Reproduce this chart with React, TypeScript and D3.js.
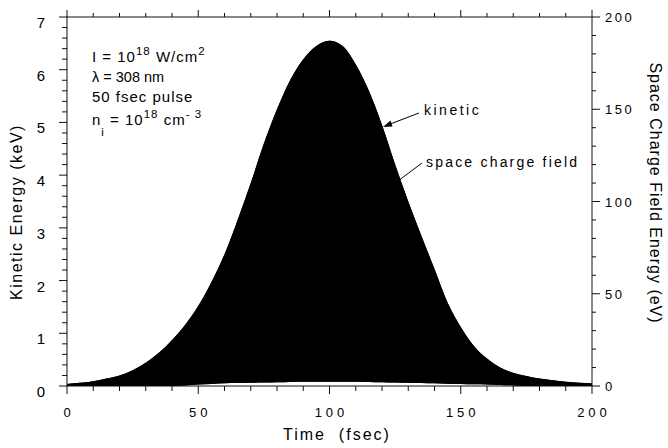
import React from 'react';
import * as d3 from 'd3';

// Time samples (fsec)
const times = [
  0, 5, 10, 15, 20, 25, 30, 35, 40, 45, 50, 55, 60, 65, 70, 75, 80, 85, 90, 95,
  100, 105, 110, 115, 120, 125, 130, 135, 140, 145, 150, 155, 160, 165, 170, 175,
  180, 185, 190, 195, 200,
];

// Upper envelope of the oscillating kinetic energy (keV)
const kineticUpper = [
  0.04, 0.06, 0.09, 0.14, 0.2, 0.3, 0.44, 0.63, 0.87, 1.16, 1.52, 1.97, 2.5, 3.15,
  3.85, 4.6, 5.25, 5.8, 6.2, 6.45, 6.55, 6.45, 6.1, 5.6, 4.95, 4.2, 3.5, 2.85,
  2.22, 1.58, 1.12, 0.76, 0.52, 0.35, 0.25, 0.19, 0.14, 0.11, 0.08, 0.06, 0.05,
];

// Lower envelope of the oscillation (keV)
const kineticLower = [
  0, 0, 0, 0, 0, 0, 0, 0, 0, 0.01, 0.03, 0.04, 0.05, 0.055, 0.06, 0.065, 0.07,
  0.075, 0.08, 0.08, 0.08, 0.08, 0.08, 0.075, 0.07, 0.065, 0.06, 0.055, 0.05,
  0.045, 0.04, 0.035, 0.03, 0.02, 0.01, 0, 0, 0, 0, 0, 0,
];

// Upper envelope of the space charge field energy (eV)
const spaceCharge = [
  1.1, 1.7, 2.6, 4.0, 5.7, 8.6, 12.6, 18, 24.9, 33.1, 43.4, 56.3, 71.4, 90,
  110, 131.4, 150, 165.7, 177.1, 184.3, 187.1, 184.3, 174.3, 160, 141.4, 120,
  100, 81.4, 63.4, 45.1, 32, 21.7, 14.9, 10, 7.1, 5.4, 4.0, 3.1, 2.3, 1.7, 1.4,
];

const timeTicks = [0, 50, 100, 150, 200];
const keVTicks = [0, 1, 2, 3, 4, 5, 6, 7];
const eVTicks = [0, 50, 100, 150, 200];

const FONT = '"Liberation Sans", Arial, Helvetica, sans-serif';

export default function App() {
  const W = 668;
  const H = 448;
  const x0 = 67, x1 = 592, yTop = 17, yBot = 386;

  const x = d3.scaleLinear().domain([0, 200]).range([x0, x1]);
  const yL = d3.scaleLinear().domain([0, 7]).range([yBot, yTop]);
  const yR = d3.scaleLinear().domain([0, 200]).range([yBot, yTop]);

  const rows = times.map((t, i) => ({
    t,
    hi: kineticUpper[i],
    lo: kineticLower[i],
    sc: spaceCharge[i],
  }));

  const kinArea = d3
    .area<any>()
    .x((d) => x(d.t))
    .y0((d) => yL(d.lo))
    .y1((d) => yL(d.hi))
    .curve(d3.curveMonotoneX);

  const scArea = d3
    .area<any>()
    .x((d) => x(d.t))
    .y0((d) => yL(d.lo))
    .y1((d) => yR(d.sc))
    .curve(d3.curveMonotoneX);

  const xMinor = x.ticks(20);
  const lMinor = yL.ticks(35);
  const rMinor = yR.ticks(20);

  const axisColor = '#111';
  const sup = 11.5;

  return (
    <svg
      width={W}
      height={H}
      style={{ position: 'absolute', left: 0, top: 0, background: '#fff' }}
      fontFamily={FONT}
    >
      <rect x={0} y={0} width={W} height={H} fill="#fff" />

      {/* oscillating energies, drawn as filled envelopes */}
      <path d={scArea(rows) || ''} fill="#000" />
      <path d={kinArea(rows) || ''} fill="#000" />

      {/* frame */}
      <rect x={x0} y={yTop} width={x1 - x0} height={yBot - yTop} fill="none" stroke={axisColor} strokeWidth={1} />

      {/* time ticks: bottom (down) and top (up) */}
      {xMinor.map((t) => {
        const major = timeTicks.includes(t);
        const len = major ? 8 : 5;
        return (
          <g key={'xt' + t} stroke={axisColor} strokeWidth={1}>
            <line x1={x(t)} x2={x(t)} y1={yBot} y2={yBot + len} />
            <line x1={x(t)} x2={x(t)} y1={yTop} y2={yTop - (major ? 7 : 4)} />
          </g>
        );
      })}
      {timeTicks.map((t) => (
        <text
          key={'xl' + t}
          x={x(t)}
          dx={2}
          y={417}
          fontSize={13}
          letterSpacing={4}
          textAnchor="middle"
        >
          {t}
        </text>
      ))}

      {/* left keV ticks */}
      {lMinor.map((v) => {
        const major = Math.abs(v - Math.round(v)) < 1e-6;
        return (
          <line
            key={'lt' + v}
            x1={x0}
            x2={x0 - (major ? 8 : 5)}
            y1={yL(v)}
            y2={yL(v)}
            stroke={axisColor}
            strokeWidth={1}
          />
        );
      })}
      {keVTicks.map((v) => (
        <text key={'ll' + v} x={45} y={yL(v) + 11} fontSize={15} textAnchor="end">
          {v}
        </text>
      ))}

      {/* right eV ticks */}
      {rMinor.map((v) => {
        const major = eVTicks.includes(v);
        return (
          <line
            key={'rt' + v}
            x1={x1}
            x2={x1 + (major ? 8 : 4)}
            y1={yR(v)}
            y2={yR(v)}
            stroke={axisColor}
            strokeWidth={1}
          />
        );
      })}
      {eVTicks.map((v) => (
        <text key={'rl' + v} x={605} y={yR(v) + 5} fontSize={13} letterSpacing={2.5}>
          {v}
        </text>
      ))}

      {/* axis titles */}
      <text
        transform="translate(22,212) rotate(-90)"
        fontSize={16}
        letterSpacing={1.5}
        textAnchor="middle"
      >
        Kinetic Energy (keV)
      </text>
      <text
        transform="translate(650,193) rotate(90)"
        fontSize={16}
        letterSpacing={1}
        textAnchor="middle"
      >
        Space Charge Field Energy (eV)
      </text>
      <text x={283} y={440} fontSize={16} letterSpacing={2} style={{ whiteSpace: 'pre' }}>
        {'Time  (fsec)'}
      </text>

      {/* run parameters */}
      <g fontSize={15} style={{ whiteSpace: 'pre' }}>
        <text x={92} y={62} letterSpacing={1}>
          {'I = 10'}
          <tspan dy={-7} fontSize={sup}>{'18'}</tspan>
          <tspan dy={7}>{'  W/cm'}</tspan>
          <tspan dy={-7} fontSize={sup}>{'2'}</tspan>
        </text>
        <text x={92} y={82} fontSize={14.5}>
          {'λ = 308 nm'}
        </text>
        <text x={92} y={102} letterSpacing={1}>
          {'50  fsec  pulse'}
        </text>
        <text x={92} y={125} letterSpacing={1}>
          {'n'}
          <tspan dy={11} fontSize={sup}>{'i'}</tspan>
          <tspan dy={-11}>{' = 10'}</tspan>
          <tspan dy={-7} fontSize={sup}>{'18'}</tspan>
          <tspan dy={7}>{'  cm'}</tspan>
          <tspan dy={-7} fontSize={sup}>{'- 3'}</tspan>
        </text>
      </g>

      {/* curve labels */}
      <text x={424} y={115} fontSize={14} letterSpacing={2.5}>
        kinetic
      </text>
      <line x1={419} y1={113} x2={389} y2={124.5} stroke="#000" strokeWidth={1} />
      <path d="M383,127 L390.5,120.5 L392.5,126.5 Z" fill="#000" />

      <text x={426} y={167} fontSize={14} letterSpacing={2.2}>
        space charge field
      </text>
      <line x1={422} y1={163} x2={398} y2={181} stroke="#000" strokeWidth={1} />
    </svg>
  );
}
